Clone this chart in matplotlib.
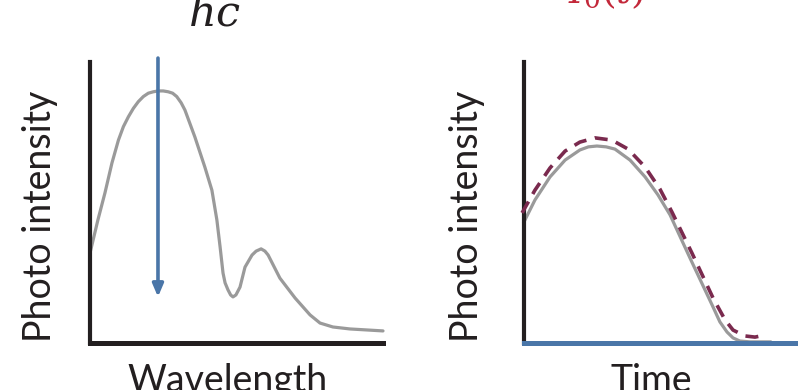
import numpy as np
import matplotlib
matplotlib.use('Agg')
import matplotlib.pyplot as plt

plt.rcParams['font.family'] = ['Lato', 'DejaVu Sans']
plt.rcParams['mathtext.fontset'] = 'dejavuserif'

# 왼쪽: 파장에 따른 광 세기 (0~100 임의 단위)
wl_x = [0, 2.7, 5.1, 7.5, 9.7, 11.4, 13.1, 14.8, 16.5, 18.2, 19.9, 21.6, 23.3,
        25.0, 26.7, 28.2, 29.6, 31.1, 32.4, 35.8, 39.2, 41.6, 43.3, 44.4, 45.4,
        46.1, 47.1, 48.0, 48.8, 49.8, 51.2, 52.9, 55.3, 56.7, 58.4, 59.7, 60.8,
        64.8, 70.0, 75.1, 78.5, 82.9, 88.7, 100]
wl_y = [32.0, 43.8, 53.4, 64.1, 72.2, 77.0, 80.5, 83.5, 85.9, 87.7, 88.9, 89.4,
        89.7, 89.7, 89.4, 88.9, 87.7, 85.5, 82.9, 73.3, 62.6, 54.4, 43.8, 34.2,
        24.9, 21.4, 18.9, 17.1, 16.4, 17.1, 19.9, 27.0, 31.3, 32.7, 33.5, 32.7,
        31.3, 23.1, 16.0, 10.0, 7.1, 5.7, 5.0, 4.3]
arrow_x = 23.2
arrow_top, arrow_tip = 101.4, 16.4

# 오른쪽: 시간에 따른 광 세기
t_x = [0, 4.0, 9.5, 15.0, 20.4, 23.5, 26.6, 30.0, 33.2, 38.7, 44.2, 48.9, 53.3,
       60.6, 69.0, 71.5, 74.1, 76.3, 78.8, 82.5, 89.8]
t_y = [43.1, 50.9, 59.1, 65.1, 68.7, 69.8, 70.1, 69.8, 69.0, 65.1, 59.1, 52.7,
       45.6, 30.2, 12.8, 7.5, 3.9, 1.8, 0.7, 0.4, 0.4]
fit_x = [-0.7, 4.0, 9.5, 15.0, 20.4, 25.9, 32.1, 38.0, 44.2, 49.6, 54.0, 61.3,
         69.0, 73.4, 76.3, 80.7, 84.3, 87.8]
fit_y = [46.3, 54.4, 62.3, 68.3, 71.5, 73.0, 72.2, 69.0, 62.6, 54.8, 46.6, 32.0,
         16.0, 8.2, 4.6, 2.5, 2.1, 2.8]

GRAY = '#9a9a9a'
BLUE = '#4a76a8'
MAROON = '#7a2a4e'
BLACK = '#231f20'

fig = plt.figure(figsize=(7.98, 3.9), dpi=100)

ax1 = fig.add_axes([90/798, 47/390, 293/798, 281/390])
ax2 = fig.add_axes([524/798, 47/390, 274/798, 281/390])

for ax in (ax1, ax2):
    ax.set_xlim(0, 100)
    ax.set_ylim(0, 100)
    ax.set_xticks([])
    ax.set_yticks([])
    ax.spines['top'].set_visible(False)
    ax.spines['right'].set_visible(False)
    ax.spines['left'].set_linewidth(3)
    ax.spines['left'].set_color(BLACK)
    ax.spines['bottom'].set_linewidth(3.6)
    ax.patch.set_alpha(0)

ax1.spines['bottom'].set_color(BLACK)
ax2.spines['bottom'].set_color(BLUE)

# 스펙트럼 곡선
ax1.plot(wl_x, wl_y, color=GRAY, lw=2.3, solid_joinstyle='round',
         solid_capstyle='round', clip_on=False)
ax1.annotate('', xy=(arrow_x, arrow_tip), xytext=(arrow_x, arrow_top),
             annotation_clip=False,
             arrowprops=dict(arrowstyle='-|>,head_width=0.32,head_length=0.75',
                             color=BLUE, lw=2.6, shrinkA=0, shrinkB=0))

# 시간 곡선
ax2.plot(t_x, t_y, color=GRAY, lw=2.3, solid_joinstyle='round', clip_on=False, zorder=2)
ax2.plot(fit_x, fit_y, color=MAROON, lw=2.6, ls=(0, (3.6, 2.4)),
         dash_joinstyle='round', clip_on=False, zorder=3)

# 라벨
fig.text(40/798, 1 - 216/390, 'Photo intensity', rotation=90, fontsize=27,
         ha='center', va='center', color=BLACK)
fig.text(467/798, 1 - 216/390, 'Photo intensity', rotation=90, fontsize=27,
         ha='center', va='center', color=BLACK)
fig.text(228/798, 1 - 392/390, 'Wavelength', fontsize=27, ha='center',
         va='baseline', color=BLACK)
fig.text(651/798, 1 - 392/390, 'Time', fontsize=27, ha='center',
         va='baseline', color=BLACK)

fig.text(214/798, 1 - 26/390, '$hc$', fontsize=31, ha='center',
         va='baseline', color=BLACK)
fig.text(606/798, 1 - 3/390, '$I_0(t)$', fontsize=27, ha='center',
         va='baseline', color='#c3283a')

fig.savefig('out.png', dpi=100)
